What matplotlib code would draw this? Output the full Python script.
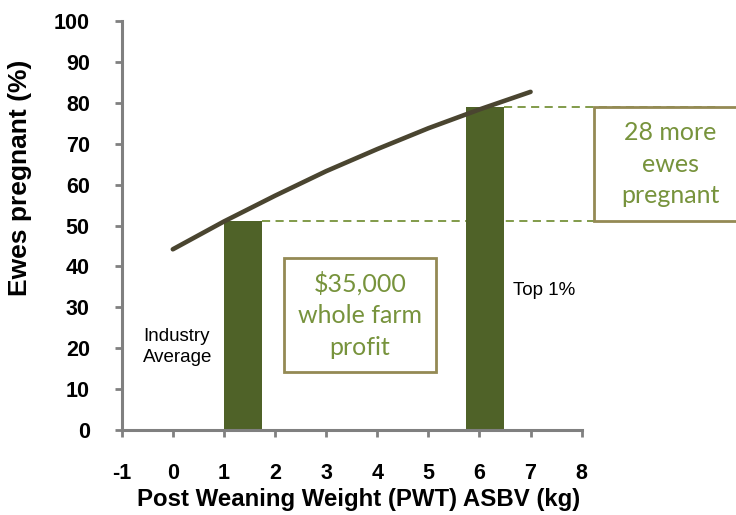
import matplotlib
matplotlib.use('Agg')
import matplotlib.pyplot as plt
from matplotlib.patches import Rectangle

plt.rcParams['axes.unicode_minus'] = False

# response curve
pwt = [0, 1, 2, 3, 4, 5, 6, 7]
pregnant = [44.2, 51.0, 57.3, 63.3, 68.7, 73.8, 78.4, 82.7]

# bars: industry average vs top 1%
bar_left = [1.0, 5.74]
bar_height = [51, 79]
bar_width = 0.745

curve_col = '#4a4530'
bar_col = '#4f6228'
green = '#77933c'
box_col = '#948a54'
axis_col = '#808080'

fig = plt.figure(figsize=(7.36, 5.15), dpi=100)
ax = fig.add_axes([0.1654, 0.165, 0.6249, 0.794])

ax.bar(bar_left, bar_height, width=bar_width, align='edge', color=bar_col, zorder=2)
ax.plot(pwt, pregnant, color=curve_col, linewidth=3.3, solid_capstyle='round', zorder=3)

# dashed guide lines running out past the axes
for left, h in zip(bar_left, bar_height):
    ax.plot([left + bar_width, 10.7], [h, h], color=green, linestyle=(0, (4.5, 3)),
            linewidth=1.3, clip_on=False, zorder=1)

ax.set_xlim(-1, 8)
ax.set_ylim(0, 100)
ax.set_xticks(range(-1, 9))
ax.set_yticks(range(0, 101, 10))

for s in ['top', 'right']:
    ax.spines[s].set_visible(False)
for s in ['left', 'bottom']:
    ax.spines[s].set_color(axis_col)
    ax.spines[s].set_linewidth(2.2)
ax.tick_params(axis='both', direction='out', color=axis_col, width=2, length=5,
               labelsize=15.5)
ax.tick_params(axis='y', pad=18)
ax.tick_params(axis='x', pad=19)
for t in ax.get_xticklabels() + ax.get_yticklabels():
    t.set_fontname('Liberation Sans')
    t.set_fontweight('bold')

ax.set_xlabel('Post Weaning Weight (PWT) ASBV (kg)', fontname='Liberation Sans',
              fontweight='bold', fontsize=17.3)
ax.xaxis.set_label_coords(0.516, -0.142)
ax.set_ylabel('Ewes pregnant (%)', fontname='Liberation Sans',
              fontweight='bold', fontsize=19)
ax.yaxis.set_label_coords(-0.195, 0.617)

# annotation boxes
ax.add_patch(Rectangle((2.18, 14.2), 2.97, 27.85, facecolor='white', edgecolor=box_col,
                       linewidth=2, zorder=4))
ax.text(3.66, 28.1, '$35,000\nwhole farm\nprofit', ha='center', va='center', color=green,
        fontname='Lato', fontsize=18, linespacing=1.45, zorder=5)

ax.add_patch(Rectangle((8.24, 51.2), 4.0, 27.8, facecolor='white', edgecolor=box_col,
                       linewidth=2, clip_on=False, zorder=4))
ax.text(9.73, 65, '28 more\newes\npregnant', ha='center', va='center', color=green,
        fontname='Lato', fontsize=18, linespacing=1.45, clip_on=False, zorder=5)

ax.text(-0.58, 20.3, 'Industry\nAverage', ha='left', va='center', fontname='Liberation Sans',
        fontsize=13.5, linespacing=1.3)
ax.text(6.66, 34.2, 'Top 1%', ha='left', va='center', fontname='Liberation Sans', fontsize=13.5)

fig.savefig('out.png', dpi=100)
